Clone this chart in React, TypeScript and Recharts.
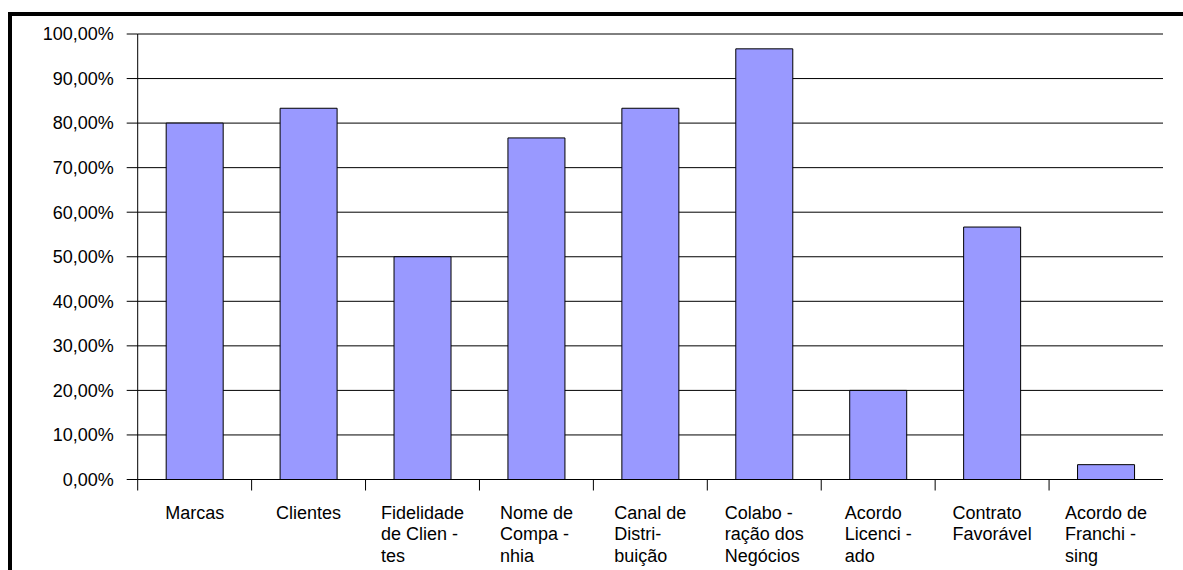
import { Bar, BarChart, CartesianGrid, XAxis, YAxis } from "recharts";

const categories = [
  "Marcas",
  "Clientes",
  "Fidelidade de Clientes",
  "Nome de Companhia",
  "Canal de Distribuição",
  "Colaboração dos Negócios",
  "Acordo Licenciado",
  "Contrato Favorável",
  "Acordo de Franchising",
];

// hyphenated line breaks used under the axis
const tickLabels = [
  ["Marcas"],
  ["Clientes"],
  ["Fidelidade", "de Clien -", "tes"],
  ["Nome de", "Compa -", "nhia"],
  ["Canal de", "Distri-", "buição"],
  ["Colabo -", "ração dos", "Negócios"],
  ["Acordo", "Licenci -", "ado"],
  ["Contrato", "Favorável"],
  ["Acordo de", "Franchi -", "sing"],
];

const percentages = [80, 83.33, 50, 76.67, 83.33, 96.67, 20, 56.67, 3.33];

const yTicks = [0, 10, 20, 30, 40, 50, 60, 70, 80, 90, 100];

const data = categories.map((name, i) => ({ name, value: percentages[i], idx: i }));

const FONT = "'Liberation Sans', Arial, sans-serif";
const FONT_SIZE = 18;
const CHART_W = 1171;
const CHART_H = 554;
const MARGIN = { top: 18, right: 20, left: 0, bottom: 0 };
const Y_AXIS_W = 125.7;
const BAND = (CHART_W - MARGIN.left - MARGIN.right - Y_AXIS_W) / categories.length;

let ctx: CanvasRenderingContext2D | null = null;
const measure = (s: string) => {
  if (!ctx) {
    ctx = document.createElement("canvas").getContext("2d");
    if (ctx) ctx.font = `${FONT_SIZE}px ${FONT}`;
  }
  return ctx ? ctx.measureText(s).width : s.length * 9;
};

const formatPct = (v: number) => `${v.toFixed(2).replace(".", ",")}%`;

const CategoryTick = (props: any) => {
  const { x, y, payload } = props;
  const lines = tickLabels[payload.index] ?? [String(payload.value)];
  const blockW = Math.max(...lines.map(measure));
  const left = x - BAND / 2;
  return (
    <g>
      <line x1={left} y1={y} x2={left} y2={y + 11} stroke="#000" />
      <text
        x={x - blockW / 2}
        y={y + 39}
        fill="#000"
        fontSize={FONT_SIZE}
        fontFamily={FONT}
        textAnchor="start"
      >
        {lines.map((l, i) => (
          <tspan key={i} x={x - blockW / 2} dy={i === 0 ? 0 : 21.7}>
            {l}
          </tspan>
        ))}
      </text>
    </g>
  );
};

export default function App() {
  return (
    <div
      style={{
        position: "absolute",
        left: 8,
        top: 12,
        width: 1175,
        height: 558,
        borderTop: "4px solid #000",
        borderLeft: "4px solid #000",
        background: "#fff",
      }}
    >
      <BarChart
        width={CHART_W}
        height={CHART_H}
        data={data}
        margin={MARGIN}
        barCategoryGap="25%"
      >
        <CartesianGrid vertical={false} stroke="#000" />
        <XAxis
          dataKey="name"
          height={90.5}
          axisLine={{ stroke: "#000" }}
          tickLine={false}
          tickSize={0}
          tickMargin={0}
          interval={0}
          tick={<CategoryTick />}
        />
        <YAxis
          width={Y_AXIS_W}
          domain={[0, 100]}
          ticks={yTicks}
          interval={0}
          tickFormatter={formatPct}
          axisLine={{ stroke: "#000" }}
          tickLine={{ stroke: "#000" }}
          tickSize={11}
          tickMargin={13}
          tick={{ fill: "#000", fontSize: FONT_SIZE, fontFamily: FONT }}
        />
        <Bar
          dataKey="value"
          fill="#9999FF"
          stroke="#000"
          strokeWidth={1}
          isAnimationActive={false}
        />
      </BarChart>
    </div>
  );
}
